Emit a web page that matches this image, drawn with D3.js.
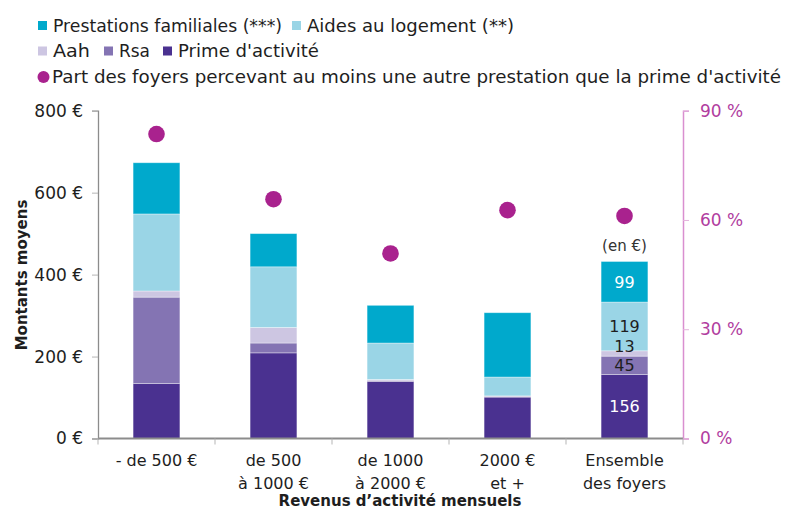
<!DOCTYPE html>
<html>
<head>
<meta charset="utf-8">
<script src="https://cdn.jsdelivr.net/npm/d3@7"></script>
<style>
    body { margin: 0; background: #fff; }
    svg text { font-family: "DejaVu Sans", "Open Sans", sans-serif; fill: #1e1e1e; }
</style>
</head>
<body>
<div id="chart"></div>
<script>

// categories (multi-line labels)
let categories = [
    ["- de 500 €"],
    ["de 500", "à 1000 €"],
    ["de 1000", "à 2000 €"],
    ["2000 €", "et +"],
    ["Ensemble", "des foyers"]
];

// average amounts (€) per stacked series, bottom to top
let primeActivite = [134, 209, 139, 101, 156];
let rsa = [211, 24, 3, 2, 45];
let aah = [15, 38, 2, 1, 13];
let aidesLogement = [188, 148, 89, 46, 119];
let prestationsFamiliales = [125, 81, 92, 157, 99];

// share of households with at least one other benefit (%)
let partFoyers = [83.6, 65.7, 50.8, 62.7, 61.1];

let leftTicks = [0, 200, 400, 600, 800];
let rightTicks = [0, 30, 60, 90];

let series = [
    {key: "prime", name: "Prime d'activité", values: primeActivite, color: "#4a3190", label: "#fff"},
    {key: "rsa", name: "Rsa", values: rsa, color: "#8474b3", label: "#1e1e1e"},
    {key: "aah", name: "Aah", values: aah, color: "#cdc6e2", label: "#1e1e1e"},
    {key: "aides", name: "Aides au logement (**)", values: aidesLogement, color: "#9ad5e6", label: "#1e1e1e"},
    {key: "pf", name: "Prestations familiales (***)", values: prestationsFamiliales, color: "#00a9cc", label: "#fff"}
];

let width = 786, height = 512;
let plot = {left: 98, right: 683, top: 110.7, bottom: 438.5};

let svg = d3.select("#chart").append("svg")
    .attr("width", width)
    .attr("height", height);

// build table for stack
let table = categories.map((c, i) => {
    let row = {i: i};
    series.forEach(s => row[s.key] = s.values[i]);
    return row;
});

let stack = d3.stack().keys(series.map(s => s.key));
let stacked = stack(table);

let x = d3.scaleBand()
    .domain(d3.range(categories.length))
    .range([plot.left, plot.right])
    .paddingInner(0.6)
    .paddingOuter(0.3);

let y = d3.scaleLinear()
    .domain([0, 800])
    .range([plot.bottom, plot.top]);

let y2 = d3.scaleLinear()
    .domain([0, 90])
    .range([plot.bottom, plot.top]);

// bars
let layers = svg.selectAll("g.layer")
    .data(stacked)
    .enter().append("g")
    .attr("class", "layer")
    .attr("fill", (d, i) => series[i].color);

layers.selectAll("rect")
    .data(d => d)
    .enter().append("rect")
    .attr("x", d => x(d.data.i))
    .attr("y", d => y(d[1]))
    .attr("width", x.bandwidth())
    .attr("height", d => y(d[0]) - y(d[1]))
    .attr("stroke", "#ffffff")
    .attr("stroke-opacity", 0.45)
    .attr("stroke-width", 0.8);

// value labels on the last bar ("Ensemble des foyers")
let last = categories.length - 1;
stacked.forEach((layer, li) => {
    let d = layer[last];
    let cy = (y(d[0]) + y(d[1])) / 2;
    // thin segment: nudge label up so it does not overlap the next one
    if (y(d[0]) - y(d[1]) < 10) cy -= 7;
    svg.append("text")
        .attr("x", x(last) + x.bandwidth() / 2)
        .attr("y", cy)
        .attr("dy", "0.36em")
        .attr("text-anchor", "middle")
        .style("font-size", "16px")
        .style("fill", series[li].label)
        .text(d[1] - d[0]);
});

svg.append("text")
    .attr("x", x(last) + x.bandwidth() / 2)
    .attr("y", y(d3.sum(series, s => s.values[last])) - 10)
    .attr("text-anchor", "middle")
    .style("font-size", "15px")
    .style("fill", "#333")
    .text("(en €)");

// left axis
let yAxis = d3.axisLeft(y)
    .tickValues(leftTicks)
    .tickSize(6)
    .tickPadding(9)
    .tickFormat(d => d + " €");

let yAxisGroup = svg.append("g")
    .attr("class", "y-axis axis")
    .attr("transform", `translate(${plot.left}, 0)`)
    .call(yAxis);

yAxisGroup.select(".domain").attr("stroke", "#8c8c8c").attr("stroke-width", 1.3);
yAxisGroup.selectAll(".tick line").attr("stroke", "#b5b5b5");
yAxisGroup.selectAll(".tick text").style("font-size", "17px").style("fill", "#1e1e1e").style("font-family", "DejaVu Sans");

// right axis
let y2Axis = d3.axisRight(y2)
    .tickValues(rightTicks)
    .tickSize(6)
    .tickPadding(11)
    .tickFormat(d => d + " %");

let y2AxisGroup = svg.append("g")
    .attr("class", "y2-axis axis")
    .attr("transform", `translate(${plot.right}, 0)`)
    .call(y2Axis);

y2AxisGroup.select(".domain").attr("stroke", "#d98fd0").attr("stroke-width", 1.5);
y2AxisGroup.selectAll(".tick line").attr("stroke", "#e3b3dc");
y2AxisGroup.selectAll(".tick text").style("font-size", "17px").style("fill", "#b13da0").style("font-family", "DejaVu Sans");

// x axis line + ticks at band boundaries
svg.append("line")
    .attr("x1", plot.left)
    .attr("x2", plot.right)
    .attr("y1", plot.bottom)
    .attr("y2", plot.bottom)
    .attr("stroke", "#8c8c8c")
    .attr("stroke-width", 2);

let boundaries = d3.range(categories.length + 1).map(i => plot.left + i * x.step());
svg.selectAll("line.xtick")
    .data(boundaries)
    .enter().append("line")
    .attr("class", "xtick")
    .attr("x1", d => d)
    .attr("x2", d => d)
    .attr("y1", plot.bottom)
    .attr("y2", plot.bottom + 6)
    .attr("stroke", "#b5b5b5");

// category labels
let catLabels = svg.selectAll("text.cat")
    .data(categories)
    .enter().append("text")
    .attr("class", "cat")
    .attr("text-anchor", "middle")
    .attr("y", 466)
    .style("font-size", "16px");

catLabels.selectAll("tspan")
    .data((d, i) => d.map(line => ({line: line, i: i})))
    .enter().append("tspan")
    .attr("x", d => x(d.i) + x.bandwidth() / 2)
    .attr("dy", (d, j) => j === 0 ? 0 : 23)
    .text(d => d.line);

// dots
svg.selectAll("circle.part")
    .data(partFoyers)
    .enter().append("circle")
    .attr("class", "part")
    .attr("cx", (d, i) => x(i) + x.bandwidth() / 2)
    .attr("cy", d => y2(d))
    .attr("r", 8.3)
    .attr("fill", "#a9228e");

// axis titles
svg.append("text")
    .attr("transform", "translate(27, 275) rotate(-90)")
    .attr("text-anchor", "middle")
    .style("font-size", "15px")
    .style("font-weight", "bold")
    .text("Montants moyens");

svg.append("text")
    .attr("x", 400)
    .attr("y", 506)
    .attr("text-anchor", "middle")
    .style("font-size", "15px")
    .style("font-weight", "bold")
    .text("Revenus d’activité mensuels");

// legend
let legendItems = [
    {s: series[4], x: 38, y: 25.5, tw: 229},
    {s: series[3], x: 292, y: 25.5, tw: 207},
    {s: series[2], x: 38, y: 51, tw: 37},
    {s: series[1], x: 104, y: 51, tw: 31},
    {s: series[0], x: 163, y: 51, tw: 141}
];

let legend = svg.append("g").attr("class", "legend");

legendItems.forEach(item => {
    legend.append("rect")
        .attr("x", item.x)
        .attr("y", item.y - 4.5)
        .attr("width", 9)
        .attr("height", 9)
        .attr("fill", item.s.color);
    legend.append("text")
        .attr("x", item.x + 15)
        .attr("y", item.y + 6)
        .attr("textLength", item.tw)
        .attr("lengthAdjust", "spacingAndGlyphs")
        .style("font-size", "18px")
        .text(item.s.name);
});

legend.append("circle")
    .attr("cx", 43.5)
    .attr("cy", 77)
    .attr("r", 6)
    .attr("fill", "#a9228e");

legend.append("text")
    .attr("x", 52)
    .attr("y", 83)
    .attr("textLength", 729)
    .attr("lengthAdjust", "spacingAndGlyphs")
    .style("font-size", "18px")
    .text("Part des foyers percevant au moins une autre prestation que la prime d'activité");

</script>
</body>
</html>
